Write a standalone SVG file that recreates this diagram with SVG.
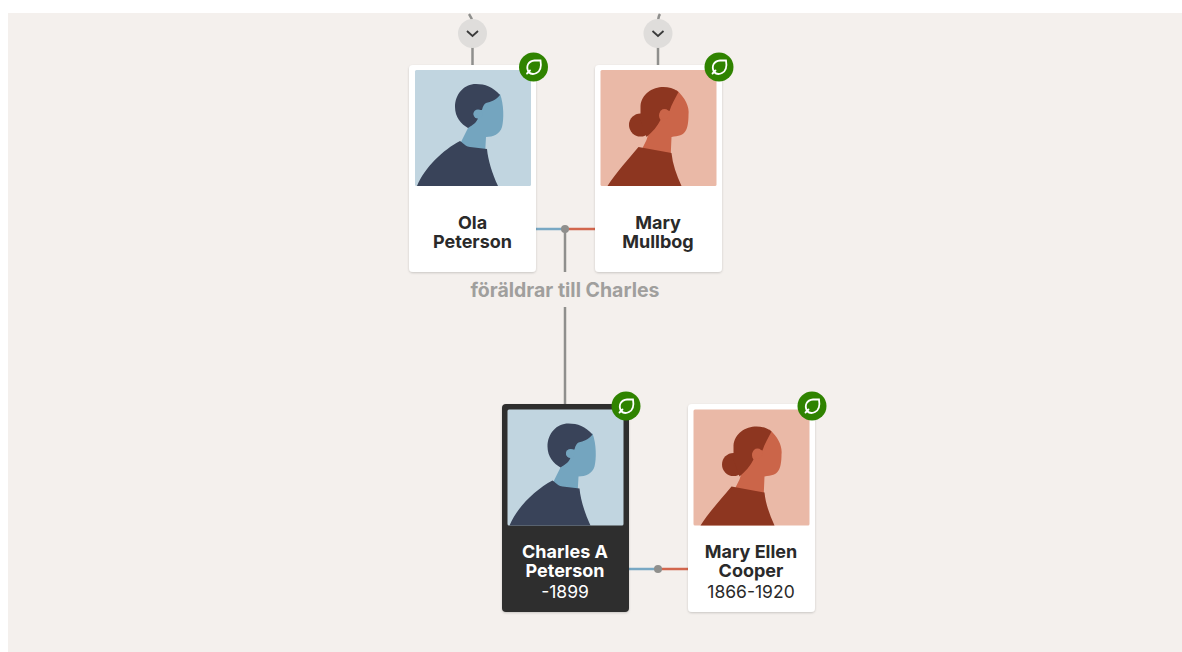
<svg xmlns="http://www.w3.org/2000/svg" width="1182" height="652" viewBox="0 0 1182 652">
<style>
.card{fill:#fff;filter:url(#sh)}
.dark{fill:#2d2d2d;filter:url(#sh)}
.n{font-family:Inter,"Liberation Sans",sans-serif;font-size:18px;font-weight:700;text-anchor:middle;fill:#2a2a2a}
.d{font-family:Inter,"Liberation Sans",sans-serif;font-size:17.500px;font-weight:400;text-anchor:middle;fill:#2a2a2a}
.g{stroke:#8f8f8d;stroke-width:2.5;fill:none}
.b{stroke:#78a8c4;stroke-width:2.5;fill:none}
.r{stroke:#d2664d;stroke-width:2.5;fill:none}
</style>
<defs>
<filter id="sh" x="-10%" y="-10%" width="120%" height="120%"><feDropShadow dx="0" dy="1" stdDeviation="1" flood-color="#000" flood-opacity="0.18"/></filter>
<g id="badge"><circle r="14.500" fill="#2f8300"/><path d="M-5 5C-8 -1 -5 -6 1 -6.500L7 -6.500C8 -1 7 4 3 6C0 7.500 -3 7 -5 5ZM-6.500 6.500L-3.500 3.500" fill="none" stroke="#fff" stroke-width="1.800" stroke-linecap="round"/></g>
<g id="male"><rect width="116" height="116" rx="1.500" fill="#c1d5e0"/>
<path d="M85 24C89 34 89 50 87 57C85 64 78 67 71 67L70 85L42 80L53 58L55 30Z" fill="#74a5bf"/>
<path d="M85 25C78 17 70 14 61 14C49 14 40 24 40 37C40 47 46 54 53 58C58 55 62 52 63 48C59 47 58 45 59 42C61 40 65 40 67 40C68 36 69 34 71 33C76 32 81 30 85 25Z" fill="#394359"/>
<circle cx="63" cy="44" r="4.500" fill="#74a5bf"/>
<path d="M2 116C10 97 28 80 45 71C49 74 52 77 55 77L72 79C73 90 77 103 83 116Z" fill="#394359"/></g>
<g id="female"><rect width="116" height="116" rx="1.500" fill="#eab9a7"/>
<path d="M76 20C85 28 89 37 88 45C88 52 87 58 85 61C83 65 78 66 71 67L70 90L40 82L46 70L57 35Z" fill="#cb6549"/>
<circle cx="40" cy="55" r="11.500" fill="#8d3620"/>
<path d="M78 22C73 18 68 17 63 17C52 17 41 24 40 36L40 50L46 67C52 62 57 56 60 50C58 47 58 44 60 42C62 40 66 40 69 41C71 34 75 28 78 22Z" fill="#8d3620"/>
<circle cx="64" cy="44" r="5" fill="#cb6549"/>
<path d="M7 116C16 102 28 89 38 77L71 83C72 94 76 105 81 116Z" fill="#8d3620"/></g>
</defs>
<rect x="8" y="13" width="1174" height="639" fill="#f4f0ed"/>
<g id="connectors">
<path class="g" d="M469 14Q472 18 472.500 23M660 14Q658 17 658 23"/>
<path class="g" d="M472.500 45V65M658 45V65"/>
<path class="b" d="M536 229H565"/>
<path class="r" d="M565 229H595"/>
<path class="g" d="M565 229V272M565 307V404"/>
<circle cx="565" cy="229" r="4" fill="#8f8f8d"/>
<path class="b" d="M629 569H658"/>
<path class="r" d="M658 569H688"/>
<circle cx="658" cy="569" r="4" fill="#8f8f8d"/>
</g>
<g id="expand-ola"><circle cx="472.500" cy="33.500" r="14.500" fill="#dfdddb"/><path d="M467 31L472.500 36L478 31" fill="none" stroke="#3a3a3a" stroke-width="1.800"/></g>
<g id="expand-mary"><circle cx="658" cy="33.500" r="14.500" fill="#dfdddb"/><path d="M652.500 31L658 36L663.500 31" fill="none" stroke="#3a3a3a" stroke-width="1.800"/></g>
<g id="node-ola"><rect class="card" x="409" y="65" width="127" height="207" rx="4"/><use href="#male" x="415" y="70"/><use href="#badge" x="533.500" y="67"/><text class="n" x="472.500" y="229">Ola</text><text class="n" x="472.500" y="248">Peterson</text></g>
<g id="node-mary"><rect class="card" x="595" y="65" width="127" height="207" rx="4"/><use href="#female" x="600.500" y="70"/><use href="#badge" x="719" y="67"/><text class="n" x="658" y="229">Mary</text><text class="n" x="658" y="248">Mullbog</text></g>
<text id="label" x="565" y="297" font-family="Inter,'Liberation Sans',sans-serif" font-size="19.500" font-weight="700" text-anchor="middle" fill="#a09f9d">föräldrar till Charles</text>
<g id="node-charles"><rect class="dark" x="502" y="404" width="127" height="208" rx="4"/><use href="#male" x="507.500" y="409.500"/><use href="#badge" x="626" y="406"/><text class="n" x="565" y="558" style="fill:#fff">Charles A</text><text class="n" x="565" y="577" style="fill:#fff">Peterson</text><text class="d" x="565" y="598" style="fill:#fff">-1899</text></g>
<g id="node-maryellen"><rect class="card" x="688" y="404" width="127" height="208" rx="4"/><use href="#female" x="693.500" y="409.500"/><use href="#badge" x="812" y="406"/><text class="n" x="751" y="558">Mary Ellen</text><text class="n" x="751" y="577">Cooper</text><text class="d" x="751" y="598">1866-1920</text></g>
</svg>
